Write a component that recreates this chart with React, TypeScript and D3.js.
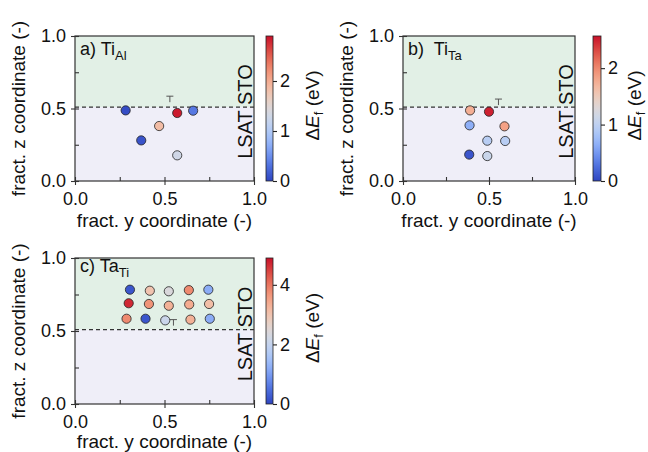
import * as d3 from "d3";
import { useEffect, useRef } from "react";

// a) Ti on Al site
const tiAlY = [0.283, 0.571, 0.66, 0.47, 0.37, 0.571];
const tiAlZ = [0.487, 0.469, 0.485, 0.379, 0.28, 0.177];
const tiAlE = [0.05, 2.85, 0.35, 1.85, 0.1, 1.3];
const tiAlMax = 2.9;
const tiAlTicks = [0, 1, 2];
const tiAlSite = [0.53, 0.585];

// b) Ti on Ta site
const tiTaY = [0.39, 0.5, 0.387, 0.59, 0.49, 0.594, 0.385, 0.49];
const tiTaZ = [0.487, 0.478, 0.384, 0.377, 0.278, 0.276, 0.182, 0.172];
const tiTaE = [1.75, 2.5, 0.65, 1.85, 0.95, 0.95, 0.1, 1.1];
const tiTaMax = 2.57;
const tiTaTicks = [0, 1, 2];
const tiTaSite = [0.555, 0.565];

// c) Ta on Ti site
const taTiY = [
  0.307, 0.418, 0.524, 0.636, 0.745,
  0.3, 0.413, 0.524, 0.638, 0.749,
  0.288, 0.394, 0.504, 0.645, 0.753,
];
const taTiZ = [
  0.783, 0.776, 0.772, 0.78, 0.783,
  0.69, 0.685, 0.673, 0.682, 0.685,
  0.584, 0.584, 0.573, 0.578, 0.584,
];
const taTiE = [
  0.2, 3.0, 2.4, 3.8, 1.2,
  4.7, 3.7, 3.3, 3.4, 3.1,
  3.8, 0.2, 2.1, 3.3, 1.2,
];
const taTiMax = 4.9;
const taTiTicks = [0, 2, 4];
const taTiSite = [0.55, 0.578];

const interfaceZ = 0.51;
const axisTicks = [0, 0.5, 1];
const minorTicks = [0.25, 0.75];

const FONT = "'Liberation Sans', Arial, sans-serif";

const cmap = d3.interpolateRgbBasis([
  "#2f45c0",
  "#5479e6",
  "#8fb2fb",
  "#bcd2f6",
  "#dddcdc",
  "#f5c3aa",
  "#f4987a",
  "#e05a48",
  "#c8102a",
]);

const panels = [
  {
    id: "a", label: "a) Ti", sub: "Al", y: tiAlY, z: tiAlZ, e: tiAlE, vmax: tiAlMax,
    cbTicks: tiAlTicks, site: tiAlSite,
    left: 75, top: 36, width: 179, height: 145, cbX: 266, cbW: 7, labelY: 55,
    xTitleOff: 46, cbTitleOff: 46,
  },
  {
    id: "b", label: "b)\u00a0 Ti", sub: "Ta", y: tiTaY, z: tiTaZ, e: tiTaE, vmax: tiTaMax,
    cbTicks: tiTaTicks, site: tiTaSite,
    left: 403, top: 36, width: 172, height: 145, cbX: 593, cbW: 8, labelY: 55,
    xTitleOff: 46, cbTitleOff: 40,
  },
  {
    id: "c", label: "c) Ta", sub: "Ti", y: taTiY, z: taTiZ, e: taTiE, vmax: taTiMax,
    cbTicks: taTiTicks, site: taTiSite,
    left: 75, top: 258, width: 179, height: 146, cbX: 266, cbW: 7, labelY: 272,
    xTitleOff: 44, cbTitleOff: 46,
  },
];

const App = () => {
  const svgRef = useRef(null);

  const drawChart = () => {
    const root = d3.select(svgRef.current);
    root.selectAll("*").remove();
    const svg = root.attr("width", 648).attr("height", 452);
    const defs = svg.append("defs");

    panels.forEach((p) => {
      const x = d3.scaleLinear().domain([0, 1]).range([p.left, p.left + p.width]);
      const y = d3.scaleLinear().domain([0, 1]).range([p.top + p.height, p.top]);
      const color = d3.scaleSequential(cmap).domain([0, p.vmax]);
      const g = svg.append("g");

      // substrate / film regions
      g.append("rect")
        .attr("x", x(0)).attr("y", y(1))
        .attr("width", x(1) - x(0)).attr("height", y(interfaceZ) - y(1))
        .attr("fill", "#e2f0e6");
      g.append("rect")
        .attr("x", x(0)).attr("y", y(interfaceZ))
        .attr("width", x(1) - x(0)).attr("height", y(0) - y(interfaceZ))
        .attr("fill", "#efeef8");

      // interface
      g.append("line")
        .attr("x1", x(0)).attr("x2", x(1))
        .attr("y1", y(interfaceZ)).attr("y2", y(interfaceZ))
        .attr("stroke", "#333").attr("stroke-width", 1.3)
        .attr("stroke-dasharray", "4,3");

      // site marker
      const sx = x(p.site[0]);
      const sy = y(p.site[1]);
      g.append("path")
        .attr("d", `M${sx - 3.5},${sy}H${sx + 3.5}M${sx},${sy}V${sy + 6}`)
        .attr("stroke", "#555").attr("stroke-width", 1).attr("fill", "none");

      // points
      g.selectAll("circle")
        .data(p.e)
        .enter()
        .append("circle")
        .attr("cx", (d, i) => x(p.y[i]))
        .attr("cy", (d, i) => y(p.z[i]))
        .attr("r", 4.6)
        .attr("fill", (d) => color(d))
        .attr("stroke", "#222")
        .attr("stroke-width", 0.8);

      // LSAT / STO
      g.append("text")
        .attr("transform", `translate(${x(1) - 2.5},${y(interfaceZ) + 4.5}) rotate(-90)`)
        .attr("text-anchor", "middle")
        .attr("font-family", FONT)
        .attr("font-size", 20)
        .attr("fill", "#111")
        .text("LSAT STO");

      // panel label
      const lab = g.append("text")
        .attr("x", p.left + 5).attr("y", p.labelY)
        .attr("font-family", FONT).attr("font-size", 18).attr("fill", "#111");
      lab.append("tspan").text(p.label);
      lab.append("tspan").attr("font-size", 13).attr("dy", 5).text(p.sub);

      // frame
      g.append("rect")
        .attr("x", x(0)).attr("y", y(1))
        .attr("width", x(1) - x(0)).attr("height", y(0) - y(1))
        .attr("fill", "none").attr("stroke", "#333").attr("stroke-width", 1.2);

      // axes: majors in-out, minors inward
      const fmt = d3.format(".1f");
      const xAx = g.append("g").attr("transform", `translate(0,${y(0)})`)
        .call(d3.axisBottom(x).tickValues(axisTicks).tickFormat(fmt).tickSize(4).tickPadding(7));
      g.append("g").attr("transform", `translate(0,${y(0)})`)
        .call(d3.axisBottom(x).tickValues(axisTicks.concat(minorTicks)).tickFormat(() => "").tickSize(-4));
      const yAx = g.append("g").attr("transform", `translate(${x(0)},0)`)
        .call(d3.axisLeft(y).tickValues(axisTicks).tickFormat(fmt).tickSize(4).tickPadding(5));
      g.append("g").attr("transform", `translate(${x(0)},0)`)
        .call(d3.axisLeft(y).tickValues(axisTicks.concat(minorTicks)).tickFormat(() => "").tickSize(-4));
      g.selectAll(".domain").remove();
      g.selectAll(".tick line").attr("stroke", "#333").attr("stroke-width", 1.1);
      [xAx, yAx].forEach((ax) =>
        ax.selectAll("text").attr("font-family", FONT).attr("font-size", 18).attr("fill", "#111")
      );

      // axis titles
      g.append("text")
        .attr("x", (x(0) + x(1)) / 2).attr("y", y(0) + p.xTitleOff)
        .attr("text-anchor", "middle")
        .attr("font-family", FONT).attr("font-size", 19).attr("fill", "#111")
        .text("fract. y coordinate (-)");
      g.append("text")
        .attr("transform", `translate(${p.left - 50},${(y(0) + y(1)) / 2}) rotate(-90)`)
        .attr("text-anchor", "middle")
        .attr("font-family", FONT).attr("font-size", 19).attr("fill", "#111")
        .text("fract. z coordinate (-)");

      // colorbar
      const grad = defs.append("linearGradient")
        .attr("id", `cb-${p.id}`)
        .attr("x1", 0).attr("x2", 0).attr("y1", 1).attr("y2", 0);
      d3.range(0, 1.0001, 0.05).forEach((t) => {
        grad.append("stop").attr("offset", t).attr("stop-color", cmap(t));
      });
      const cy = d3.scaleLinear().domain([0, p.vmax]).range([p.top + p.height, p.top]);
      g.append("rect")
        .attr("x", p.cbX).attr("y", p.top)
        .attr("width", p.cbW).attr("height", p.height)
        .attr("fill", `url(#cb-${p.id})`)
        .attr("stroke", "#222").attr("stroke-width", 0.8);
      const cAx = g.append("g").attr("transform", `translate(${p.cbX + p.cbW},0)`)
        .call(d3.axisRight(cy).tickValues(p.cbTicks).tickFormat(d3.format("d")).tickSize(4).tickPadding(3));
      cAx.select(".domain").remove();
      cAx.selectAll(".tick line").attr("stroke", "#222").attr("stroke-width", 1.1);
      cAx.selectAll("text").attr("font-family", FONT).attr("font-size", 18).attr("fill", "#111");

      const cbt = g.append("text")
        .attr("transform", `translate(${p.cbX + p.cbW + p.cbTitleOff},${p.top + p.height / 2 - 3}) rotate(-90)`)
        .attr("text-anchor", "middle")
        .attr("font-family", FONT).attr("font-size", 19).attr("fill", "#111");
      cbt.append("tspan").text("Δ");
      cbt.append("tspan").attr("font-style", "italic").text("E");
      cbt.append("tspan").attr("font-size", 13).attr("dy", 4).text("f");
      cbt.append("tspan").attr("dy", -4).text(" (eV)");
    });
  };

  useEffect(() => {
    drawChart();
  }, []);

  return (
    <svg
      ref={svgRef}
      style={{ position: "fixed", left: 0, top: 0, background: "#fff", display: "block" }}
    ></svg>
  );
};

export default App;
